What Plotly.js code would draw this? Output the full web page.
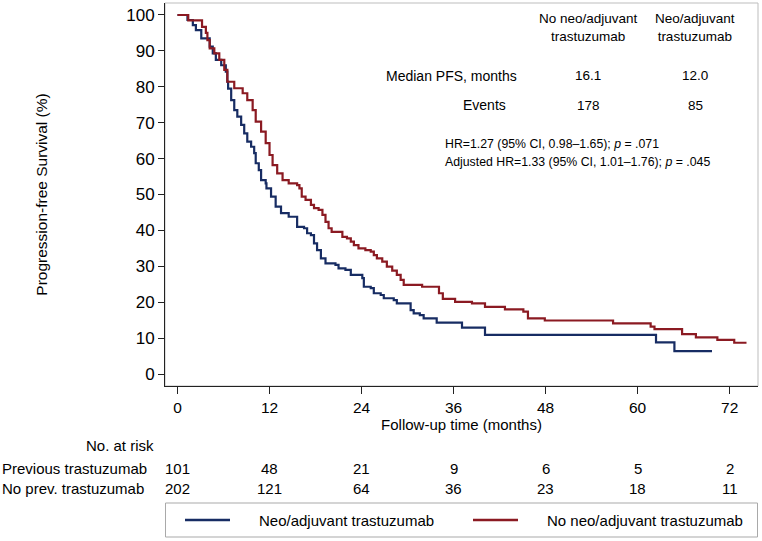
<!DOCTYPE html>
<html>
<head>
<meta charset="utf-8">
<script src="https://cdn.plot.ly/plotly-3.0.1.min.js"></script>
<style>html,body{margin:0;padding:0;background:#fff;}#chart{width:762px;height:541px;}</style>
</head>
<body>
<div id="chart"></div>
<script>
// Kaplan-Meier step data (months, % progression-free)
const neoTimes = [0,1.3,2.0,2.4,3.1,4.2,4.6,5.0,5.7,6.3,6.5,6.6,7.0,7.4,7.8,8.3,8.7,9.1,9.6,10.0,10.2,10.6,10.9,11.5,11.6,12.2,12.8,13.5,14.5,15.6,16.5,16.9,17.4,17.8,18.2,18.7,19.3,20.6,21.0,21.9,22.6,24.1,24.3,25.2,25.6,26.5,26.9,28.2,28.6,30.4,30.8,31.6,32.1,33.8,37.1,40.1,62.4,64.8,69.7];
const neoSurv  = [100,98.6,97.2,95.8,93.5,91.2,89.3,87.5,86.0,84.2,81.4,79.5,76.3,73.5,71.7,69.4,67.0,64.7,63.3,61.5,58.7,56.8,54.0,53.1,51.7,49.4,46.6,44.8,43.8,41.0,40.6,39.2,38.7,36.4,34.5,32.2,30.8,30.4,29.4,29.0,27.6,26.7,24.3,23.9,22.5,22.0,21.1,20.6,19.7,17.8,16.9,16.4,15.5,14.3,12.9,10.9,8.8,6.4,6.4];

const noNeoTimes = [0,1.4,3.2,3.7,3.9,4.2,4.8,5.45,6.1,6.5,7.4,8.5,9.1,9.8,10.2,10.9,11.5,12.0,12.4,13.0,13.7,14.5,15.6,15.9,16.2,16.7,17.4,17.8,18.4,18.9,19.3,19.7,20.1,21.5,22.1,22.6,23.0,23.6,24.5,25.2,25.6,26.0,26.7,27.3,28.0,28.6,29.1,29.5,31.9,34.1,34.6,36.2,38.4,40.1,42.7,45.1,45.7,47.9,56.8,61.7,62.2,65.8,67.6,70.4,72.6,74.2];
const noNeoSurv  = [100,98.5,96.7,95.0,93.0,90.7,89.3,87.5,84.7,81.4,79.6,78.2,76.3,73.5,70.3,67.5,64.3,61.0,58.2,55.9,54.0,53.1,52.6,51.7,49.4,48.5,47.1,46.2,45.7,44.3,42.4,40.6,39.6,38.2,37.8,36.9,35.9,35.0,34.5,34.1,33.1,32.2,31.3,29.9,28.8,27.6,26.2,24.8,24.3,22.5,20.9,20.1,19.7,18.7,18.0,17.4,15.5,14.9,14.1,13.2,12.5,11.1,10.2,9.5,8.7,8.7];

const seriesNames = ["Neo/adjuvant trastuzumab", "No neo/adjuvant trastuzumab"];
const xTicks = [0,12,24,36,48,60,72];
const yTicks = [0,10,20,30,40,50,60,70,80,90,100];
const riskTimes = [0,12,24,36,48,60,72];
const riskPrev = [101,48,21,9,6,5,2];
const riskNoPrev = [202,121,64,36,23,18,11];
const riskLabels = ["Previous trastuzumab", "No prev. trastuzumab"];
const tableHeaders = ["No neo/adjuvant<br>trastuzumab", "Neo/adjuvant<br>trastuzumab"];
const medianPFS = ["16.1", "12.0"];
const events = ["178", "85"];
const hrLines = ["HR=1.27 (95% CI, 0.98\u20131.65); <i>p</i> = .071",
                 "Adjusted HR=1.33 (95% CI, 1.01\u20131.76); <i>p</i> = .045"];

const BLUE = '#172c63', RED = '#8b1a22';
const FONT = 'Liberation Sans, Arial, sans-serif';
const L = 165, R = 4, T = 3, B = 155, W = 762, H = 541;
const PW = W - L - R, PH = H - T - B;
const px = v => (v - L) / PW;
const py = v => (H - B - v) / PH;

const traces = [
  {x: neoTimes, y: neoSurv, name: seriesNames[0], type: 'scatter', mode: 'lines',
   line: {shape: 'hv', color: BLUE, width: 2.2}, showlegend: false},
  {x: noNeoTimes, y: noNeoSurv, name: seriesNames[1], type: 'scatter', mode: 'lines',
   line: {shape: 'hv', color: RED, width: 2.2}, showlegend: false}
];

const ann = [];
const txt = (text, x, y, xanchor, size) => ({
  text: text, x: px(x), y: py(y), xref: 'paper', yref: 'paper', xanchor: xanchor || 'center',
  yanchor: 'middle', showarrow: false, font: {family: FONT, size: size || 13, color: '#000'}
});

ann.push(txt(tableHeaders[0], 588, 28, 'center', 13.5));
ann.push(txt(tableHeaders[1], 695, 28, 'center', 13.5));
ann.push(txt("Median PFS, months", 451, 76, 'center', 14));
ann.push(txt(medianPFS[0], 588, 76, 'center', 13.5));
ann.push(txt(medianPFS[1], 695, 76, 'center', 13.5));
ann.push(txt("Events", 484, 105, 'center', 14));
ann.push(txt(events[0], 588, 105, 'center', 13.5));
ann.push(txt(events[1], 695, 105, 'center', 13.5));
ann.push(txt(hrLines[0], 443, 144, 'left', 12.3));
ann.push(txt(hrLines[1], 443, 162, 'left', 12.3));

ann.push(txt("No. at risk", 120, 446, 'center', 15));
ann.push(txt(riskLabels[0], 0, 468, 'left', 15));
ann.push(txt(riskLabels[1], 0, 488, 'left', 15));
riskTimes.forEach((t, i) => {
  ann.push({text: String(riskPrev[i]), x: t, xref: 'x', y: py(468), yref: 'paper', showarrow: false,
            xanchor: 'center', yanchor: 'middle', font: {family: FONT, size: 15, color: '#000'}});
  ann.push({text: String(riskNoPrev[i]), x: t, xref: 'x', y: py(488), yref: 'paper', showarrow: false,
            xanchor: 'center', yanchor: 'middle', font: {family: FONT, size: 15, color: '#000'}});
});

// legend (drawn as a boxed key below the risk table)
const legendColors = [BLUE, RED];
const legendLineX = [[185, 230], [473, 518]];
const legendTextX = [257, 545];
const LEG_Y = 520;
const shapes = [
  {type: 'rect', xref: 'paper', yref: 'paper', x0: 0, x1: 1, y0: 0, y1: 1,
   line: {color: '#bdbdbd', width: 1}, layer: 'below'},
  {type: 'rect', xref: 'paper', yref: 'paper', x0: px(165.5), x1: px(757.5), y0: py(503), y1: py(537),
   line: {color: '#a9a9a9', width: 1}, fillcolor: 'rgba(0,0,0,0)'}
];
seriesNames.forEach((n, i) => {
  shapes.push({type: 'line', xref: 'paper', yref: 'paper', x0: px(legendLineX[i][0]), x1: px(legendLineX[i][1]),
               y0: py(LEG_Y), y1: py(LEG_Y), line: {color: legendColors[i], width: 2.5}});
  ann.push(txt(n, legendTextX[i], LEG_Y, 'left', 15));
});

const layout = {
  width: W, height: H,
  margin: {l: L, r: R, t: T, b: B, pad: 0},
  paper_bgcolor: '#fff', plot_bgcolor: '#fff',
  font: {family: FONT, size: 15, color: '#000'},
  showlegend: false,
  xaxis: {range: [-1.63, 75.7], tickvals: xTicks, ticktext: xTicks.map(String),
          ticks: 'outside', ticklen: 7, tickcolor: '#222', tickwidth: 1,
          showline: true, linecolor: '#222', linewidth: 1, showgrid: false, zeroline: false,
          tickfont: {family: FONT, size: 15.5, color: '#000'},
          title: {text: 'Follow-up time (months)', font: {family: FONT, size: 15, color: '#000'}, standoff: 0},
          automargin: false, fixedrange: true},
  yaxis: {range: [-3.34, 103.34], tickvals: yTicks, ticktext: yTicks.map(String),
          ticks: 'outside', ticklen: 6, tickcolor: '#222', tickwidth: 1,
          showline: true, linecolor: '#222', linewidth: 1, showgrid: false, zeroline: false,
          tickfont: {family: FONT, size: 17, color: '#000'},
          title: {text: 'Progression-free Survival (%)', font: {family: FONT, size: 15.5, color: '#000'}, standoff: 74},
          automargin: false, fixedrange: true},
  shapes: shapes,
  annotations: ann
};

Plotly.newPlot('chart', traces, layout, {displayModeBar: false, staticPlot: true});
</script>
</body>
</html>
